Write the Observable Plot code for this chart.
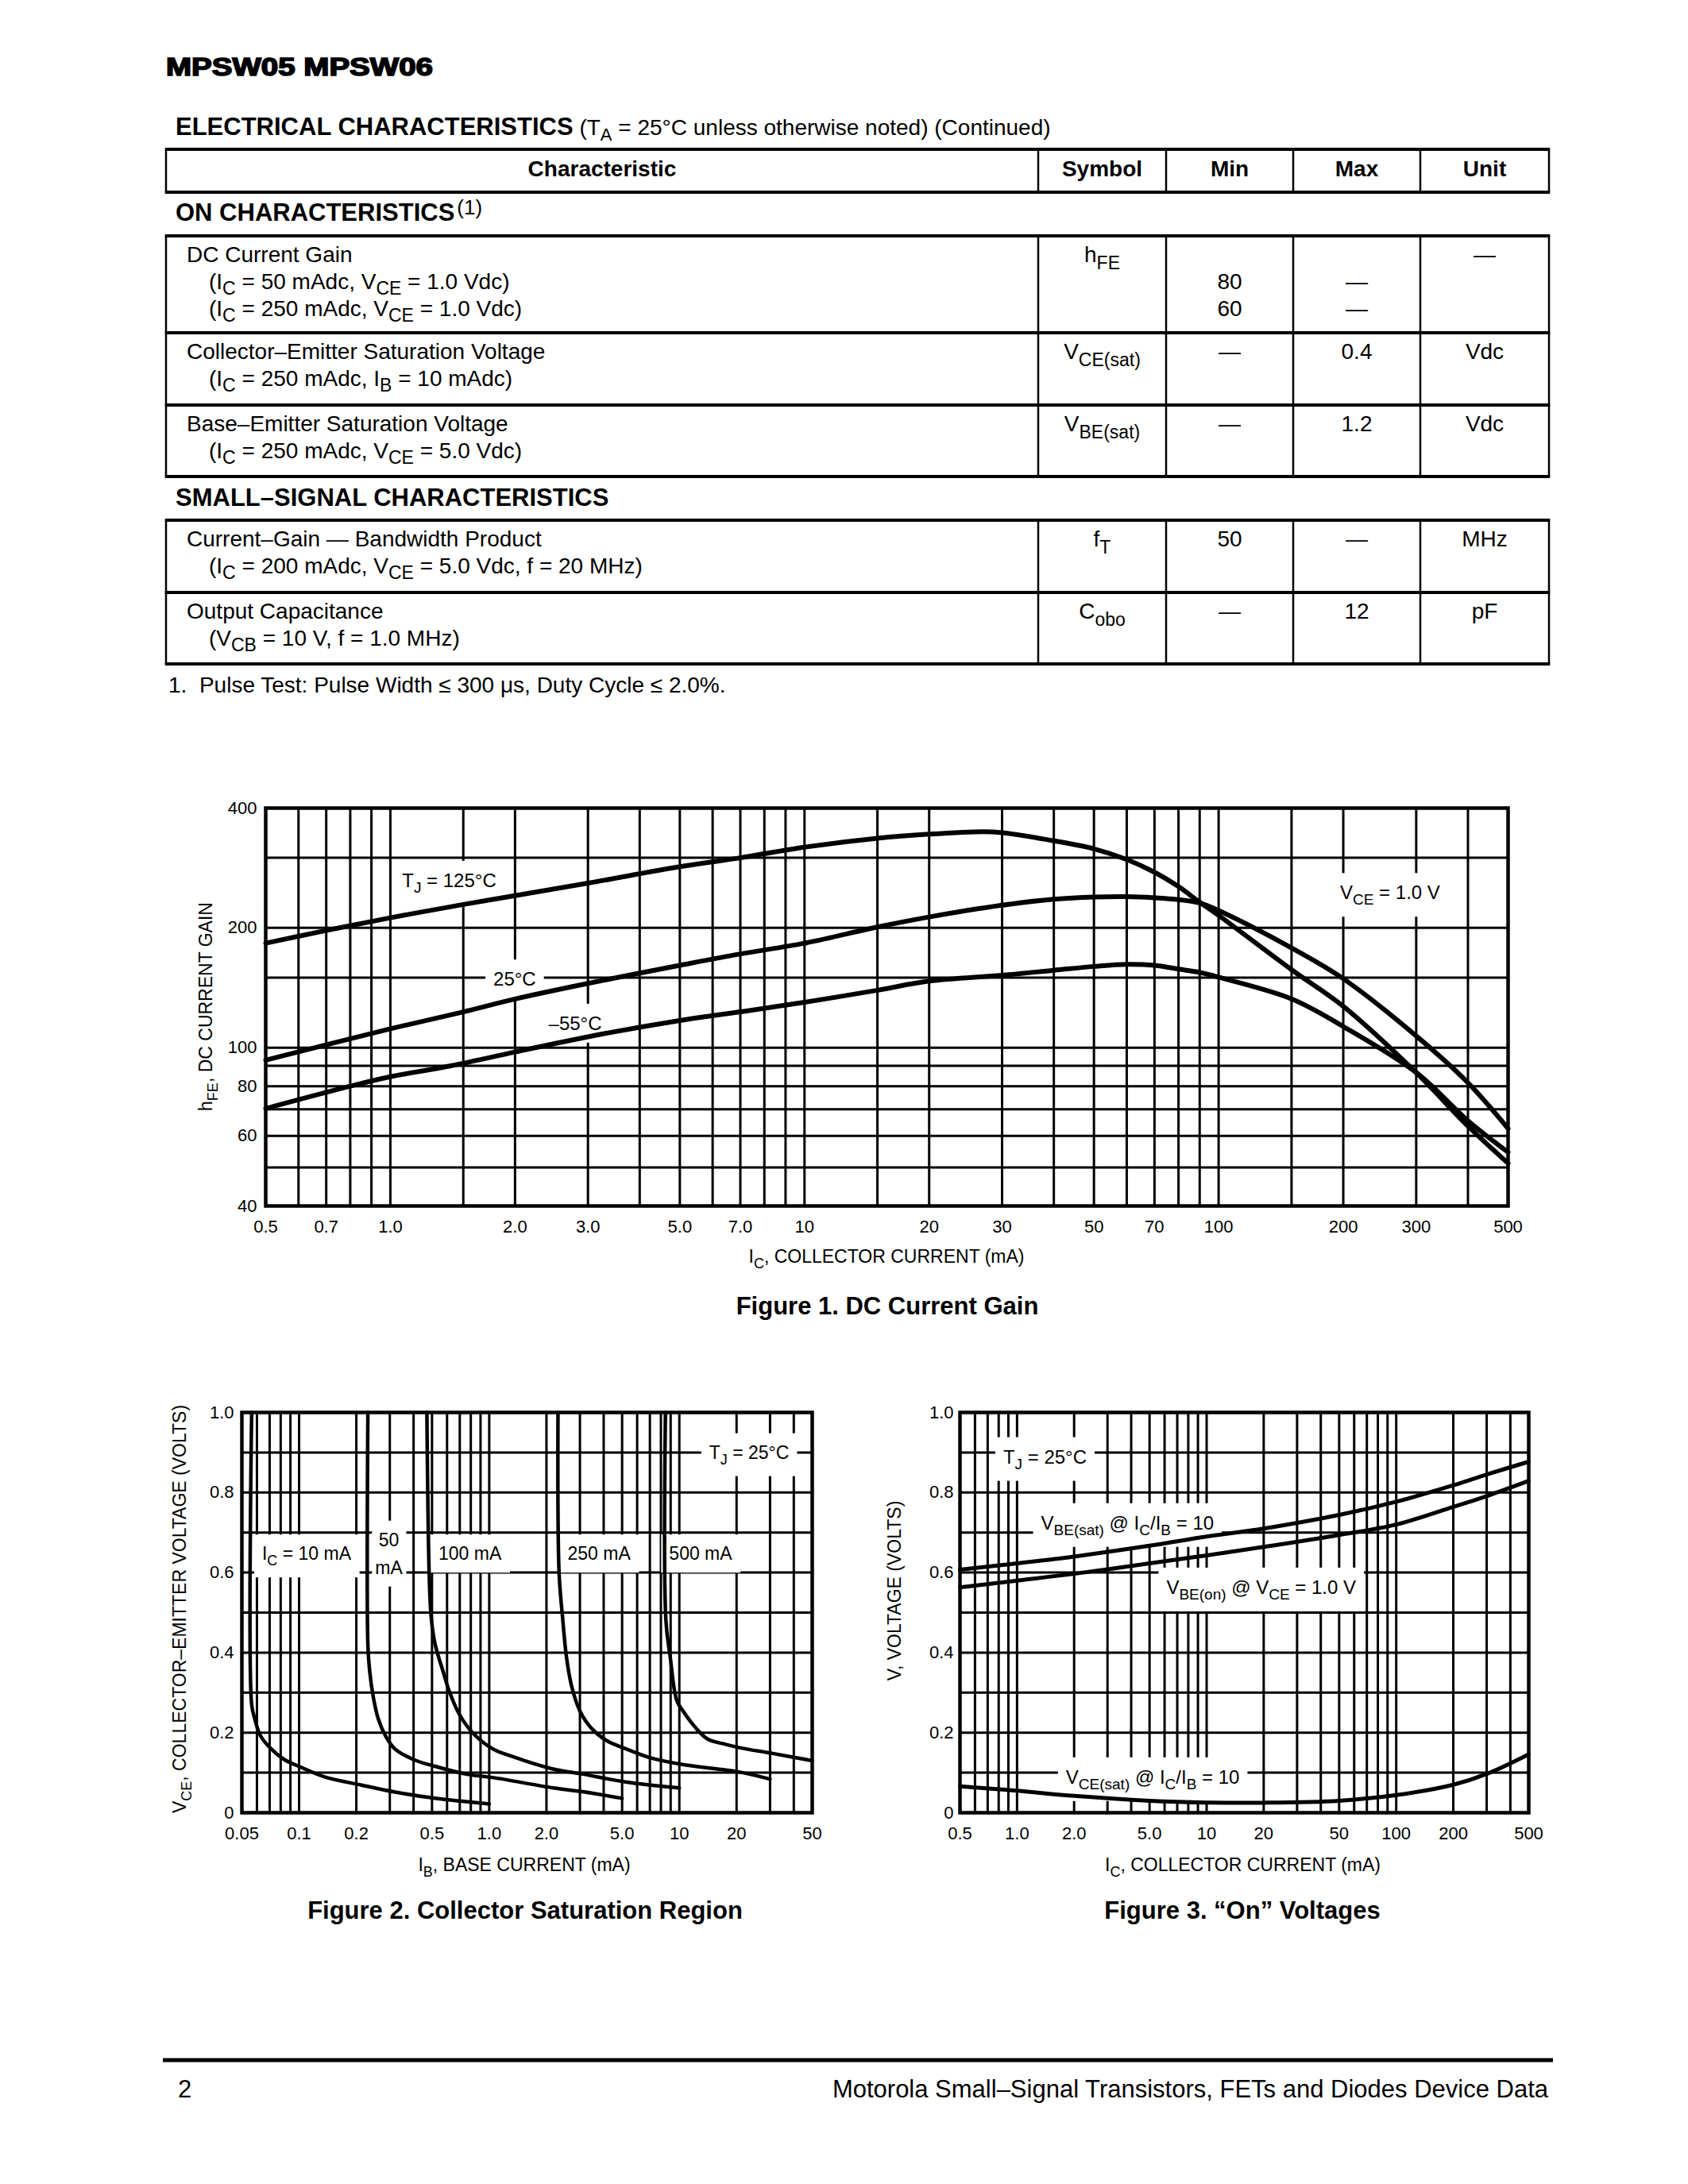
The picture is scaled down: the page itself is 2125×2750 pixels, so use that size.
<!DOCTYPE html>
<html>
<head>
<meta charset="utf-8">
<title>MPSW05 MPSW06</title>
<script src="https://cdn.jsdelivr.net/npm/d3@7"></script>
<script src="https://cdn.jsdelivr.net/npm/@observablehq/plot@0.6"></script>
<style>
  html, body { margin: 0; padding: 0; background: #fff; }
  #page { position: relative; width: 2125px; height: 2750px; background: #fff; overflow: hidden; }
  #page svg text { white-space: pre; }
</style>
</head>
<body>
<div id="page"></div>
<script>
const FONT = '"Liberation Sans", Arial, Helvetica, sans-serif';

// ================= DATA: page header & table =================
const docTitle = "MPSW05 MPSW06";
const tableTitle = "ELECTRICAL CHARACTERISTICS";
const tableTitleNote = " (T_{A} = 25°C unless otherwise noted) (Continued)";
const tableColumns = ["Characteristic", "Symbol", "Min", "Max", "Unit"];
const sectionNames = ["ON CHARACTERISTICS", "SMALL–SIGNAL CHARACTERISTICS"];
const sectionNotes = ["(1)", ""];
const rowCharacteristics = [
  ["DC Current Gain", "(I_{C} = 50 mAdc, V_{CE} = 1.0 Vdc)", "(I_{C} = 250 mAdc, V_{CE} = 1.0 Vdc)"],
  ["Collector–Emitter Saturation Voltage", "(I_{C} = 250 mAdc, I_{B} = 10 mAdc)"],
  ["Base–Emitter Saturation Voltage", "(I_{C} = 250 mAdc, V_{CE} = 5.0 Vdc)"],
  ["Current–Gain — Bandwidth Product", "(I_{C} = 200 mAdc, V_{CE} = 5.0 Vdc, f = 20 MHz)"],
  ["Output Capacitance", "(V_{CB} = 10 V, f = 1.0 MHz)"]
];
const rowSymbols = ["h_{FE}", "V_{CE(sat)}", "V_{BE(sat)}", "f_{T}", "C_{obo}"];
const rowMin  = [["", "80", "60"], ["—"], ["—"], ["50"], ["—"]];
const rowMax  = [["", "—", "—"], ["0.4"], ["1.2"], ["—"], ["12"]];
const rowUnit = [["—"], ["Vdc"], ["Vdc"], ["MHz"], ["pF"]];
const footnote = "1.  Pulse Test: Pulse Width ≤ 300 μs, Duty Cycle ≤ 2.0%.";
const footerPage = "2";
const footerText = "Motorola Small–Signal Transistors, FETs and Diodes Device Data";

// ================= DATA: Figure 1 (DC current gain) =================
const fig1Caption = "Figure 1. DC Current Gain";
const fig1XTitle = "I_{C}, COLLECTOR CURRENT (mA)";
const fig1YTitle = "h_{FE}, DC CURRENT GAIN";
const fig1XTicks = [0.5, 0.7, 1, 2, 3, 5, 7, 10, 20, 30, 50, 70, 100, 200, 300, 500];
const fig1XTickLabels = ["0.5", "0.7", "1.0", "2.0", "3.0", "5.0", "7.0", "10", "20", "30", "50", "70", "100", "200", "300", "500"];
const fig1YTicks = [40, 60, 80, 100, 200, 400];
const fig1YTickLabels = ["40", "60", "80", "100", "200", "400"];
const fig1GridX = [0.6, 0.7, 0.8, 0.9, 1, 1.5, 2, 3, 4, 5, 6, 7, 8, 9, 10, 15, 20, 30, 40, 50, 60, 70, 80, 90, 100, 150, 200, 300, 400];
const fig1GridY = [50, 60, 70, 80, 90, 100, 150, 200, 300];
const icT125 = [0.5, 0.7, 1, 1.5, 2, 3, 5, 7, 10, 15, 20, 27, 30, 40, 50, 60, 70, 80, 90, 100, 150, 200, 300, 400, 500];
const hfeT125 = [183, 197, 212, 229, 241, 259, 285, 300, 319, 336, 344, 349, 347, 331, 316, 297, 276, 254, 232, 215, 157, 127, 86.5, 63.5, 51.2];
const icT25 = [0.5, 1, 1.5, 2, 3, 5, 7, 10, 15, 20, 30, 40, 50, 60, 70, 80, 90, 100, 150, 200, 300, 400, 500];
const hfeT25 = [93, 111.5, 123, 132.5, 145, 161, 172, 183, 201, 213, 228, 236, 239, 239.5, 238, 235.5, 231, 221, 178, 149, 107, 81.6, 62.6];
const icTm55 = [0.5, 0.8, 1, 1.4, 2, 3, 5, 7, 10, 15, 20, 30, 40, 50, 60, 70, 80, 90, 100, 150, 200, 300, 400, 500];
const hfeTm55 = [70.3, 80, 84.5, 90, 97.5, 106.5, 117, 123, 130, 139.4, 147, 152, 156.5, 160, 162, 161, 157.5, 154.6, 150.3, 132.6, 113, 86.6, 65.5, 54.6];
const fig1Labels = ["T_{J} = 125°C", "25°C", "–55°C", "V_{CE} = 1.0 V"];
const fig1LabelX = [1.39, 2.0, 2.8, 260];
const fig1LabelY = [263, 148.5, 115, 245];

// ================= DATA: Figure 2 (collector saturation) =================
const fig2Caption = "Figure 2. Collector Saturation Region";
const fig2XTitle = "I_{B}, BASE CURRENT (mA)";
const fig2YTitle = "V_{CE}, COLLECTOR–EMITTER VOLTAGE (VOLTS)";
const fig2XTicks = [0.05, 0.1, 0.2, 0.5, 1, 2, 5, 10, 20, 50];
const fig2XTickLabels = ["0.05", "0.1", "0.2", "0.5", "1.0", "2.0", "5.0", "10", "20", "50"];
const fig2YTicks = [0, 0.2, 0.4, 0.6, 0.8, 1.0];
const fig2YTickLabels = ["0", "0.2", "0.4", "0.6", "0.8", "1.0"];
const fig2GridX = [0.06, 0.07, 0.08, 0.09, 0.1, 0.2, 0.3, 0.4, 0.5, 0.6, 0.7, 0.8, 0.9, 1, 2, 3, 4, 5, 6, 7, 8, 9, 10, 20, 30, 40];
const fig2GridY = [0.1, 0.2, 0.3, 0.4, 0.5, 0.6, 0.7, 0.8, 0.9];
const ib10 = [0.0563, 0.0563, 0.0585, 0.0625, 0.0711, 0.0835, 0.103, 0.137, 0.213, 0.316, 0.519, 1.0];
const vce10 = [1.0, 0.27, 0.234, 0.193, 0.16, 0.133, 0.113, 0.089, 0.069, 0.052, 0.036, 0.022];
const ib50 = [0.23, 0.23, 0.235, 0.246, 0.261, 0.284, 0.318, 0.399, 0.518, 0.765, 1.04, 2.17, 3.15, 5.0];
const vce50 = [1.0, 0.42, 0.354, 0.287, 0.234, 0.193, 0.16, 0.133, 0.116, 0.096, 0.088, 0.062, 0.052, 0.036];
const ib100 = [0.47, 0.483, 0.495, 0.519, 0.571, 0.619, 0.694, 0.817, 1.04, 1.33, 2.17, 3.15, 5.2, 10];
const vce100 = [1.0, 0.6, 0.489, 0.421, 0.354, 0.301, 0.247, 0.2, 0.16, 0.14, 0.109, 0.096, 0.077, 0.062];
const ib250 = [2.3, 2.33, 2.43, 2.55, 2.72, 3.0, 3.42, 4.15, 5.22, 7.17, 10.5, 20.5, 30];
const vce250 = [1.0, 0.6, 0.489, 0.388, 0.314, 0.254, 0.213, 0.18, 0.16, 0.136, 0.12, 0.102, 0.084];
const ib500 = [8.45, 8.5, 8.95, 9.7, 10.5, 12.0, 14.1, 17.5, 21, 31, 50];
const vce500 = [1.0, 0.48, 0.39, 0.28, 0.253, 0.216, 0.184, 0.171, 0.162, 0.148, 0.13];
const fig2Labels = ["I_{C} = 10 mA", "50|mA", "100 mA", "250 mA", "500 mA", "T_{J} = 25°C"];
const fig2LabelX = [0.11, 0.298, 0.796, 3.8, 13.0, 23.4];
const fig2LabelY = [0.647, 0.647, 0.647, 0.647, 0.647, 0.9];
const fig2LabelPad = [10, 4, 10, 10, 10, 10];

// ================= DATA: Figure 3 ("On" voltages) =================
const fig3Caption = "Figure 3. “On” Voltages";
const fig3XTitle = "I_{C}, COLLECTOR CURRENT (mA)";
const fig3YTitle = "V, VOLTAGE (VOLTS)";
const fig3XTicks = [0.5, 1, 2, 5, 10, 20, 50, 100, 200, 500];
const fig3XTickLabels = ["0.5", "1.0", "2.0", "5.0", "10", "20", "50", "100", "200", "500"];
const fig3YTicks = [0, 0.2, 0.4, 0.6, 0.8, 1.0];
const fig3YTickLabels = ["0", "0.2", "0.4", "0.6", "0.8", "1.0"];
const fig3GridX = [0.6, 0.7, 0.8, 0.9, 1, 2, 3, 4, 5, 6, 7, 8, 9, 10, 20, 30, 40, 50, 60, 70, 80, 90, 100, 200, 300, 400];
const fig3GridY = [0.1, 0.2, 0.3, 0.4, 0.5, 0.6, 0.7, 0.8, 0.9];
const icOn = [0.5, 1, 2, 5, 10, 20, 50, 100, 200, 300, 500];
const vbeSat = [0.607, 0.623, 0.64, 0.667, 0.69, 0.71, 0.744, 0.777, 0.818, 0.845, 0.877];
const vbeOn = [0.563, 0.58, 0.597, 0.623, 0.643, 0.664, 0.694, 0.72, 0.764, 0.791, 0.829];
const vceSat = [0.066, 0.055, 0.042, 0.03, 0.0255, 0.025, 0.03, 0.044, 0.07, 0.097, 0.146];
const fig3Labels = ["T_{J} = 25°C", "V_{BE(sat)} @ I_{C}/I_{B} = 10", "V_{BE(on)} @ V_{CE} = 1.0 V", "V_{CE(sat)} @ I_{C}/I_{B} = 10"];
const fig3LabelX = [1.41, 3.84, 19.5, 5.22];
const fig3LabelY = [0.889, 0.724, 0.563, 0.089];

// ================= helpers =================
function parseRich(str) {
  const parts = [];
  const re = /([_^])\{([^}]*)\}/g;
  let last = 0, m;
  while ((m = re.exec(str))) {
    if (m.index > last) parts.push({t: str.slice(last, m.index), k: "n"});
    parts.push({t: m[2], k: m[1] === "_" ? "sub" : "sup"});
    last = re.lastIndex;
  }
  if (last < str.length) parts.push({t: str.slice(last), k: "n"});
  return parts;
}
function richText(parent, x, y, str, o = {}) {
  const size = o.size || 24;
  const subSize = o.subSize || Math.round(size * 0.8);
  const shift = o.shift != null ? o.shift : size * 0.3;
  const t = parent.append("text").attr("x", x).attr("y", y)
    .attr("font-size", size).attr("font-family", FONT)
    .attr("font-weight", o.weight || "normal")
    .attr("text-anchor", o.anchor || "start").attr("fill", "black")
    .style("white-space", "pre");
  if (o.transform) t.attr("transform", o.transform);
  let cur = 0;
  for (const p of parseRich(str)) {
    const target = p.k === "sub" ? shift : p.k === "sup" ? -size * 0.4 : 0;
    const ts = t.append("tspan").text(p.t);
    if (target - cur !== 0) ts.attr("dy", target - cur);
    if (p.k !== "n") ts.attr("font-size", subSize);
    cur = target;
  }
  return t;
}
function scaleFn(chart, name) {
  const s = chart.scale(name);
  if (s && typeof s.apply === "function") return v => s.apply(v);
  const f = (s.type === "log" ? d3.scaleLog() : d3.scaleLinear()).domain(s.domain).range(s.range);
  return v => f(v);
}
function place(chart, left, top) {
  chart.style.position = "absolute";
  chart.style.left = left + "px";
  chart.style.top = top + "px";
  chart.style.background = "transparent";
  chart.style.overflow = "visible";
  document.getElementById("page").appendChild(chart);
}
function addLabels(chart, texts, xs, ys, o) {
  const fx = scaleFn(chart, "x"), fy = scaleFn(chart, "y");
  const svg = d3.select(chart);
  const firstLine = chart.querySelector('g[aria-label="line"]');
  const boxNode = document.createElementNS("http://www.w3.org/2000/svg", "g");
  chart.insertBefore(boxNode, firstLine);
  const boxes = d3.select(boxNode);
  const layer = svg.append("g");
  texts.forEach((txt, i) => {
    const g = layer.append("g");
    const lines = txt.split("|");
    const cx = fx(xs[i]), cy = fy(ys[i]);
    lines.forEach((ln, j) => {
      const off = (j - (lines.length - 1) / 2) * o.lineGap;
      richText(g, cx, cy + off + o.size * 0.36, ln, {size: o.size, subSize: o.subSize, shift: o.shift, anchor: "middle"});
    });
    const bb = g.node().getBBox();
    const px = o.padX ? o.padX[i] : 10;
    boxes.append("rect").attr("x", bb.x - px).attr("y", bb.y - o.padY)
      .attr("width", bb.width + 2 * px).attr("height", bb.height + 2 * o.padY).attr("fill", "white");
  });
}
function addTitles(chart, m, W, H, xTitle, yTitle, o) {
  const svg = d3.select(chart);
  const fl = m.left, fr = W - m.right, ft = m.top, fb = H - m.bottom;
  const xc = o.xCenter != null ? o.xCenter : (fl + fr) / 2;
  richText(svg, xc, fb + o.xOffset, xTitle, {size: 23, subSize: 18, shift: 7, anchor: "middle"});
  const yc = o.yCenter != null ? o.yCenter : (ft + fb) / 2;
  const yx = fl - o.yOffset;
  richText(svg, yx, yc, yTitle, {size: 23, subSize: 18, shift: 7, anchor: "middle", transform: `rotate(-90, ${yx}, ${yc})`});
}
function series(name, xs, ys) { return xs.map((x, i) => ({x, y: ys[i], s: name})); }
// tick labels drawn as text marks positioned by the plot's own scales
function tickLabelMarks(xTicks, xLabels, yTicks, yLabels, xPad, yPad) {
  return [
    Plot.text(xTicks, {x: d => d, text: (d, i) => xLabels[i], frameAnchor: "bottom", dy: xPad, lineAnchor: "middle", fontSize: 22, fill: "black"}),
    Plot.text(yTicks, {y: d => d, text: (d, i) => yLabels[i], frameAnchor: "left", dx: -yPad, textAnchor: "end", lineAnchor: "middle", fontSize: 22, fill: "black"})
  ];
}

// ================= page svg: header, table, captions, footer =================
const page = d3.select("#page");
const doc = page.append("svg").attr("width", 2125).attr("height", 2750)
  .style("position", "absolute").style("left", "0px").style("top", "0px");

doc.append("text").attr("x", 209).attr("y", 95).attr("font-family", FONT)
  .attr("font-weight", 900).attr("font-size", 31).attr("textLength", 336)
  .attr("lengthAdjust", "spacingAndGlyphs").attr("stroke", "black").attr("stroke-width", 1.6)
  .attr("fill", "black").text(docTitle);

const ttl = doc.append("text").attr("x", 221).attr("y", 170).attr("font-family", FONT)
  .attr("font-weight", "bold").attr("font-size", 31).attr("fill", "black").text(tableTitle);
richText(doc, 221 + ttl.node().getComputedTextLength(), 170, tableTitleNote, {size: 28, subSize: 22, shift: 7});

const T_LEFT = 209, T_RIGHT = 1950;
const colX = [209, 1307, 1468, 1628, 1788, 1950];
const colCenter = [758, 1387.5, 1548, 1708, 1869];
const hLines = [188, 242, 297, 419, 510, 600, 655, 746, 836];
const vSpans = [[188, 242], [297, 600], [655, 836]];
for (const [a, b] of vSpans) for (const x of colX)
  doc.append("line").attr("x1", x).attr("x2", x).attr("y1", a).attr("y2", b).attr("stroke", "black").attr("stroke-width", 2.5);
for (const y of hLines)
  doc.append("line").attr("x1", T_LEFT - 1.25).attr("x2", T_RIGHT + 1.25).attr("y1", y).attr("y2", y).attr("stroke", "black").attr("stroke-width", 4);

tableColumns.forEach((c, i) => {
  doc.append("text").attr("x", colCenter[i]).attr("y", 222).attr("text-anchor", "middle")
    .attr("font-family", FONT).attr("font-weight", "bold").attr("font-size", 28).attr("fill", "black").text(c);
});
const sectionBaselines = [278, 637];
sectionNames.forEach((s, i) => {
  const t = doc.append("text").attr("x", 221).attr("y", sectionBaselines[i]).attr("font-family", FONT)
    .attr("font-weight", "bold").attr("font-size", 31).attr("fill", "black").text(s);
  if (sectionNotes[i]) {
    doc.append("text").attr("x", 221 + t.node().getComputedTextLength() + 3).attr("y", sectionBaselines[i] - 8)
      .attr("font-family", FONT).attr("font-size", 26).attr("fill", "black").text(sectionNotes[i]);
  }
});
const rowTops = [297, 419, 510, 655, 746];
rowCharacteristics.forEach((lines, r) => {
  const base = rowTops[r] + 33;
  lines.forEach((ln, j) => richText(doc, j === 0 ? 235 : 263, base + 34 * j, ln, {size: 28, subSize: 23, shift: 7}));
  richText(doc, colCenter[1], base, rowSymbols[r], {size: 28, subSize: 23, shift: 9, anchor: "middle"});
  [rowMin[r], rowMax[r], rowUnit[r]].forEach((vals, c) => {
    vals.forEach((v, j) => {
      if (v) doc.append("text").attr("x", colCenter[c + 2]).attr("y", base + 34 * j).attr("text-anchor", "middle")
        .attr("font-family", FONT).attr("font-size", 28).attr("fill", "black").text(v);
    });
  });
});
richText(doc, 212, 872, footnote, {size: 28});

// captions
[[fig1Caption, 1117, 1655], [fig2Caption, 661, 2416], [fig3Caption, 1564, 2416]].forEach(([t, x, y]) => {
  doc.append("text").attr("x", x).attr("y", y).attr("text-anchor", "middle").attr("font-family", FONT)
    .attr("font-weight", "bold").attr("font-size", 31).attr("fill", "black").text(t);
});
// footer
doc.append("line").attr("x1", 205).attr("x2", 1955).attr("y1", 2594).attr("y2", 2594).attr("stroke", "black").attr("stroke-width", 5);
doc.append("text").attr("x", 224).attr("y", 2641).attr("font-family", FONT).attr("font-size", 31).attr("fill", "black").text(footerPage);
doc.append("text").attr("x", 1949).attr("y", 2641).attr("text-anchor", "end").attr("font-family", FONT).attr("font-size", 31).attr("fill", "black").text(footerText);

// ================= Figure 1 =================
{
  const W = 1740, H = 640, m = {left: 134, right: 42, top: 27, bottom: 112};
  const data = [...series("125", icT125, hfeT125), ...series("25", icT25, hfeT25), ...series("-55", icTm55, hfeTm55)];
  const chart = Plot.plot({
    width: W, height: H, marginLeft: m.left, marginRight: m.right, marginTop: m.top, marginBottom: m.bottom,
    style: {fontSize: "22px", fontFamily: FONT, color: "black", background: "transparent"},
    x: {type: "log", domain: [0.5, 500], axis: null},
    y: {type: "log", domain: [40, 400], axis: null},
    marks: [
      Plot.ruleX(fig1GridX, {stroke: "black", strokeWidth: 3}),
      Plot.ruleY(fig1GridY, {stroke: "black", strokeWidth: 3}),
      Plot.line(data, {x: "x", y: "y", z: "s", stroke: "black", strokeWidth: 6, curve: "catmull-rom"}),
      Plot.frame({stroke: "black", strokeWidth: 4.5}),
      ...tickLabelMarks(fig1XTicks, fig1XTickLabels, fig1YTicks, fig1YTickLabels, 26, 11)
    ]
  });
  place(chart, 200, 990);
  addLabels(chart, fig1Labels, fig1LabelX, fig1LabelY, {size: 24, subSize: 19, shift: 7, padY: 11, lineGap: 35});
  addTitles(chart, m, W, H, fig1XTitle, fig1YTitle, {xOffset: 72, yOffset: 67});
}

// ================= Figure 2 =================
{
  const W = 872, H = 640, m = {left: 124, right: 30, top: 28, bottom: 108};
  const data = [...series("10", ib10, vce10), ...series("50", ib50, vce50), ...series("100", ib100, vce100),
                ...series("250", ib250, vce250), ...series("500", ib500, vce500)];
  const chart = Plot.plot({
    width: W, height: H, marginLeft: m.left, marginRight: m.right, marginTop: m.top, marginBottom: m.bottom,
    style: {fontSize: "22px", fontFamily: FONT, color: "black", background: "transparent"},
    x: {type: "log", domain: [0.05, 50], axis: null},
    y: {type: "linear", domain: [0, 1], axis: null},
    marks: [
      Plot.ruleX(fig2GridX, {stroke: "black", strokeWidth: 3}),
      Plot.ruleY(fig2GridY, {stroke: "black", strokeWidth: 3}),
      Plot.line(data, {x: "x", y: "y", z: "s", stroke: "black", strokeWidth: 4.5, curve: "catmull-rom"}),
      Plot.frame({stroke: "black", strokeWidth: 4.5}),
      ...tickLabelMarks(fig2XTicks, fig2XTickLabels, fig2YTicks, fig2YTickLabels, 26, 10)
    ]
  });
  place(chart, 180, 1750);
  addLabels(chart, fig2Labels, fig2LabelX, fig2LabelY, {size: 23, subSize: 18, shift: 7, padY: 11, lineGap: 35, padX: fig2LabelPad});
  addTitles(chart, m, W, H, fig2XTitle, fig2YTitle, {xOffset: 74, yOffset: 70, xCenter: 480, yCenter: 276});
}

// ================= Figure 3 =================
{
  const W = 880, H = 640, m = {left: 128, right: 36, top: 28, bottom: 108};
  const data = [...series("vbesat", icOn, vbeSat), ...series("vbeon", icOn, vbeOn), ...series("vcesat", icOn, vceSat)];
  const chart = Plot.plot({
    width: W, height: H, marginLeft: m.left, marginRight: m.right, marginTop: m.top, marginBottom: m.bottom,
    style: {fontSize: "22px", fontFamily: FONT, color: "black", background: "transparent"},
    x: {type: "log", domain: [0.5, 500], axis: null},
    y: {type: "linear", domain: [0, 1], axis: null},
    marks: [
      Plot.ruleX(fig3GridX, {stroke: "black", strokeWidth: 3}),
      Plot.ruleY(fig3GridY, {stroke: "black", strokeWidth: 3}),
      Plot.line(data, {x: "x", y: "y", z: "s", stroke: "black", strokeWidth: 5, curve: "catmull-rom"}),
      Plot.frame({stroke: "black", strokeWidth: 4.5}),
      ...tickLabelMarks(fig3XTicks, fig3XTickLabels, fig3YTicks, fig3YTickLabels, 26, 8)
    ]
  });
  place(chart, 1080, 1750);
  addLabels(chart, fig3Labels, fig3LabelX, fig3LabelY, {size: 24, subSize: 19, shift: 7, padY: 11, lineGap: 35});
  addTitles(chart, m, W, H, fig3XTitle, fig3YTitle, {xOffset: 74, yOffset: 74, xCenter: 484.5, yCenter: 253});
}
</script>
</body>
</html>
